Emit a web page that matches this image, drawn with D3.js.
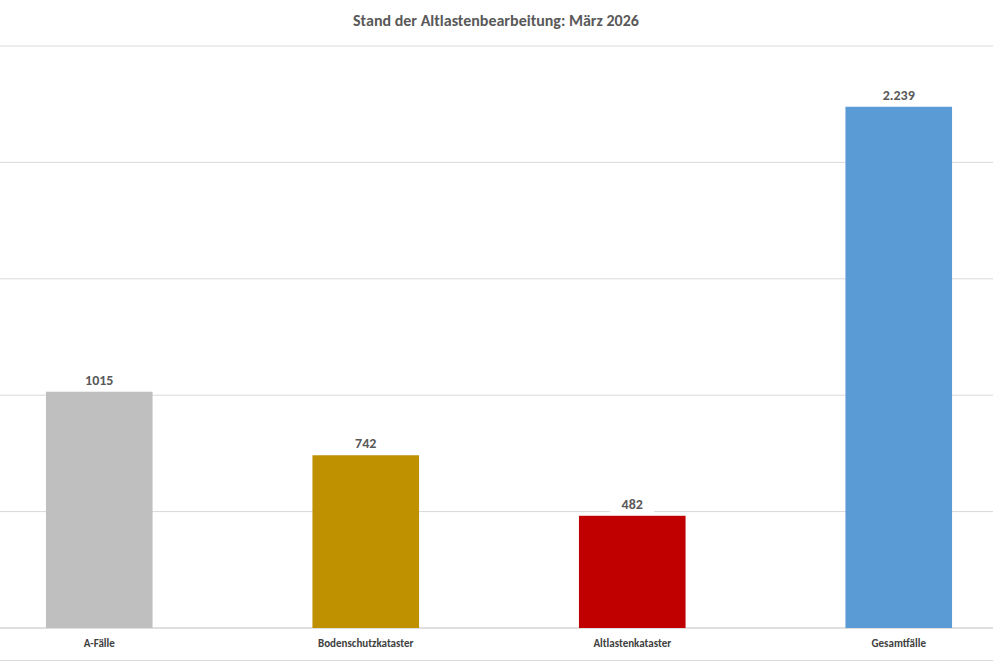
<!DOCTYPE html>
<html><head><meta charset="utf-8">
<script src="https://cdn.jsdelivr.net/npm/d3@7"></script>
<style>body{margin:0;background:#fff}svg{display:block;font-family:Calibri,"Liberation Sans",Carlito,sans-serif}</style>
</head><body><svg id="c" width="993" height="662"></svg>
<script>
const categories = ["A-Fälle", "Bodenschutzkataster", "Altlastenkataster", "Gesamtfälle"];
const values = [1015, 742, 482, 2239];
const labels = ["1015", "742", "482", "2.239"];
const colors = ["#bfbfbf", "#bf9000", "#c00000", "#5b9bd5"];
const yTicks = [0, 500, 1000, 1500, 2000, 2500];

const svg = d3.select("#c");
const x = d3.scaleBand().domain(categories).range([-34, 1032]).paddingInner(0.6).paddingOuter(0.3);
const y = d3.scaleLinear().domain([0, 2500]).range([628, 46]);

svg.append("text").attr("x", 496).attr("y", 26).attr("text-anchor", "middle")
  .attr("font-size", 16).attr("font-weight", "bold").attr("fill", "#595959")
  .text("Stand der Altlastenbearbeitung: März 2026");

svg.selectAll(".grid").data(yTicks).enter().append("line")
  .attr("x1", 0).attr("x2", 993).attr("y1", d => y(d)).attr("y2", d => y(d))
  .attr("stroke", d => d === 0 ? "#bfbfbf" : "#d9d9d9").attr("stroke-width", 1);
svg.append("line").attr("x1", 0).attr("x2", 993).attr("y1", 660.5).attr("y2", 660.5).attr("stroke", "#d9d9d9");

svg.selectAll(".bar").data(values).enter().append("rect")
  .attr("x", (d, i) => x(categories[i])).attr("width", x.bandwidth())
  .attr("y", d => y(d)).attr("height", d => y(0) - y(d))
  .attr("fill", (d, i) => colors[i]);

const lab = svg.selectAll(".lab").data(values).enter().append("g")
  .attr("transform", (d, i) => `translate(${x(categories[i]) + x.bandwidth() / 2},${y(d) - 4})`);
lab.append("rect").attr("x", -22).attr("y", -17).attr("width", 44).attr("height", 19).attr("fill", "#fff");
lab.append("text").attr("text-anchor", "middle").attr("y", -3).attr("font-size", 14)
  .attr("font-weight", "bold").attr("fill", "#595959").text((d, i) => labels[i]);

svg.selectAll(".cat").data(categories).enter().append("text")
  .attr("x", d => x(d) + x.bandwidth() / 2).attr("y", 647).attr("text-anchor", "middle")
  .attr("font-size", 11).attr("font-weight", "bold").attr("fill", "#404040").text(d => d);
</script></body></html>
